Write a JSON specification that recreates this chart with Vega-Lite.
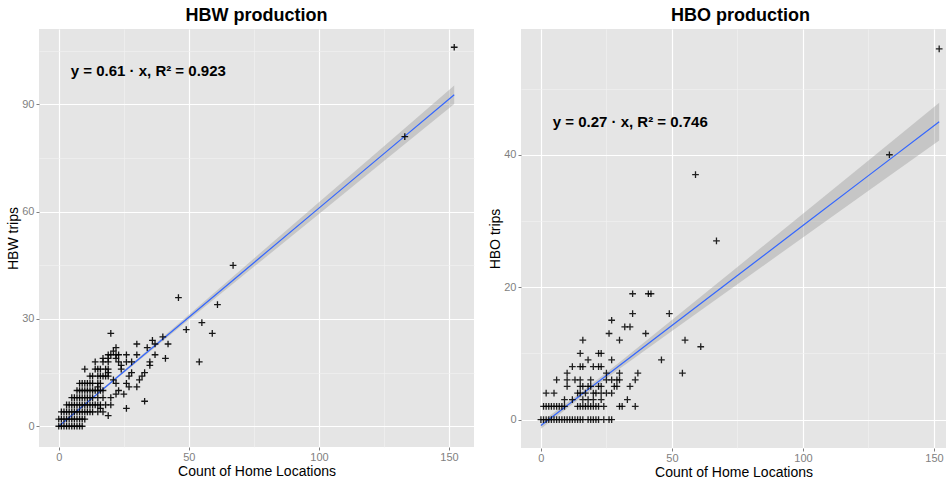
{
  "$schema": "https://vega.github.io/schema/vega-lite/v6.json",
  "padding": {"left": 6, "top": 7, "right": 0, "bottom": 0},
  "spacing": 14,
  "background": "white",
  "config": {
    "font": "Liberation Sans",
    "view": {"fill": "#E5E5E5", "stroke": null},
    "axis": {
      "domain": false,
      "labelColor": "#7F7F7F",
      "labelFontSize": 11,
      "labelFont": "Liberation Sans",
      "tickColor": "#7F7F7F",
      "tickSize": 3,
      "labelPadding": 2,
      "titleFont": "Liberation Sans",
      "titleFontSize": 14,
      "titleFontWeight": "normal",
      "titleColor": "black"
    },
    "title": {"font": "Liberation Sans", "fontSize": 18, "fontWeight": "bold", "color": "black", "offset": 4}
  },
  "datasets": {
    "hbw": [
      {"x":0,"y":0},{"x":1,"y":0},{"x":2,"y":0},{"x":3,"y":0},{"x":4,"y":0},{"x":5,"y":0},{"x":6,"y":0},{"x":7,"y":0},{"x":8,"y":0},{"x":9,"y":0},
      {"x":0,"y":2},{"x":1,"y":2},{"x":2,"y":2},{"x":3,"y":2},{"x":4,"y":2},{"x":5,"y":2},{"x":6,"y":2},{"x":7,"y":2},{"x":8,"y":2},{"x":9,"y":2},{"x":10,"y":2},
      {"x":1,"y":4},{"x":2,"y":4},{"x":3,"y":4},{"x":4,"y":4},{"x":5,"y":4},{"x":6,"y":4},{"x":7,"y":4},{"x":8,"y":4},{"x":9,"y":4},{"x":10,"y":4},{"x":11,"y":4},{"x":12,"y":4},{"x":13,"y":4},{"x":15,"y":4},{"x":17,"y":4},
      {"x":19,"y":3},
      {"x":3,"y":6},{"x":4,"y":6},{"x":5,"y":6},{"x":6,"y":6},{"x":7,"y":6},{"x":8,"y":6},{"x":9,"y":6},{"x":10,"y":6},{"x":11,"y":6},{"x":12,"y":6},{"x":13,"y":6},{"x":14,"y":6},{"x":15,"y":6},{"x":16,"y":6},{"x":18,"y":6},{"x":20,"y":6},
      {"x":16,"y":5},{"x":26,"y":5},
      {"x":5,"y":8},{"x":6,"y":8},{"x":7,"y":8},{"x":8,"y":8},{"x":9,"y":8},{"x":10,"y":8},{"x":11,"y":8},{"x":12,"y":8},{"x":13,"y":8},{"x":15,"y":8},{"x":17,"y":8},{"x":20,"y":8},
      {"x":33,"y":7},
      {"x":22,"y":9},{"x":25,"y":9},
      {"x":7,"y":10},{"x":8,"y":10},{"x":9,"y":10},{"x":10,"y":10},{"x":11,"y":10},{"x":12,"y":10},{"x":13,"y":10},{"x":14,"y":10},{"x":15,"y":10},{"x":16,"y":10},{"x":17,"y":10},{"x":23,"y":10},
      {"x":27,"y":11},{"x":30,"y":11},{"x":15,"y":11},
      {"x":8,"y":12},{"x":9,"y":12},{"x":10,"y":12},{"x":11,"y":12},{"x":12,"y":12},{"x":13,"y":12},{"x":15,"y":12},{"x":16,"y":12},{"x":22,"y":12},{"x":26,"y":12},
      {"x":21,"y":13},{"x":31,"y":13},
      {"x":12,"y":14},{"x":13,"y":14},{"x":15,"y":14},{"x":16,"y":14},{"x":17,"y":14},{"x":18,"y":14},{"x":19,"y":14},{"x":27,"y":14},{"x":32,"y":14},
      {"x":19,"y":15},{"x":28,"y":15},{"x":33,"y":15},
      {"x":10,"y":16},{"x":14,"y":16},{"x":15,"y":16},{"x":16,"y":16},{"x":18,"y":16},{"x":19,"y":16},{"x":24,"y":16},
      {"x":24,"y":17},{"x":35,"y":17},
      {"x":14,"y":18},{"x":17,"y":18},{"x":19,"y":18},{"x":23,"y":18},{"x":26,"y":18},{"x":28,"y":18},{"x":35,"y":18},
      {"x":17,"y":19},{"x":19,"y":19},{"x":22,"y":19},{"x":41,"y":19},
      {"x":19,"y":20},{"x":20,"y":20},{"x":22,"y":20},{"x":23,"y":20},{"x":26,"y":20},{"x":30,"y":20},{"x":37,"y":20},
      {"x":21,"y":21},
      {"x":22,"y":22},{"x":34,"y":22},
      {"x":30,"y":23},{"x":37,"y":23},{"x":42,"y":23},
      {"x":36,"y":24},{"x":40,"y":25},
      {"x":20,"y":26},{"x":59,"y":26},
      {"x":49,"y":27},{"x":55,"y":29},{"x":61,"y":34},{"x":46,"y":36},{"x":67,"y":45},{"x":54,"y":18},{"x":133,"y":81},{"x":152,"y":106}
    ],
    "hbo": [
      {"x":0,"y":0},{"x":1,"y":0},{"x":2,"y":0},{"x":3,"y":0},{"x":4,"y":0},{"x":5,"y":0},{"x":6,"y":0},{"x":7,"y":0},{"x":8,"y":0},{"x":9,"y":0},{"x":10,"y":0},{"x":11,"y":0},{"x":12,"y":0},{"x":13,"y":0},{"x":14,"y":0},{"x":15,"y":0},{"x":16,"y":0},{"x":18,"y":0},{"x":19,"y":0},{"x":20,"y":0},{"x":21,"y":0},{"x":22,"y":0},{"x":24,"y":0},{"x":26,"y":0},{"x":27,"y":0},
      {"x":1,"y":2},{"x":2,"y":2},{"x":3,"y":2},{"x":4,"y":2},{"x":5,"y":2},{"x":6,"y":2},{"x":7,"y":2},{"x":8,"y":2},{"x":9,"y":2},{"x":14,"y":2},{"x":15,"y":2},{"x":16,"y":2},{"x":17,"y":2},{"x":18,"y":2},{"x":19,"y":2},{"x":20,"y":2},{"x":21,"y":2},{"x":22,"y":2},{"x":24,"y":2},{"x":30,"y":2},{"x":31,"y":2},{"x":36,"y":2},
      {"x":9,"y":3},{"x":12,"y":3},{"x":16,"y":3},{"x":18,"y":3},{"x":20,"y":3},{"x":23,"y":3},{"x":33,"y":3},
      {"x":2,"y":4},{"x":5,"y":4},{"x":14,"y":4},{"x":15,"y":4},{"x":17,"y":4},{"x":20,"y":4},{"x":21,"y":4},{"x":23,"y":4},{"x":25,"y":4},{"x":27,"y":4},
      {"x":10,"y":5},{"x":15,"y":5},{"x":16,"y":5},{"x":18,"y":5},{"x":19,"y":5},{"x":22,"y":5},{"x":23,"y":5},{"x":28,"y":5},{"x":29,"y":5},{"x":34,"y":5},
      {"x":6,"y":6},{"x":10,"y":6},{"x":13,"y":6},{"x":15,"y":6},{"x":19,"y":6},{"x":25,"y":6},{"x":27,"y":6},{"x":29,"y":6},{"x":30,"y":6},{"x":36,"y":6},
      {"x":10,"y":7},{"x":25,"y":7},{"x":30,"y":7},{"x":37,"y":7},{"x":54,"y":7},
      {"x":12,"y":8},{"x":15,"y":8},{"x":16,"y":8},{"x":20,"y":8},{"x":22,"y":8},{"x":23,"y":8},
      {"x":18,"y":9},{"x":27,"y":9},{"x":46,"y":9},
      {"x":15,"y":10},{"x":22,"y":10},{"x":23,"y":10},
      {"x":61,"y":11},
      {"x":16,"y":12},{"x":30,"y":12},{"x":55,"y":12},
      {"x":26,"y":13},{"x":40,"y":13},
      {"x":32,"y":14},{"x":34,"y":14},
      {"x":27,"y":15},
      {"x":35,"y":16},{"x":49,"y":16},
      {"x":35,"y":19},{"x":41,"y":19},{"x":42,"y":19},
      {"x":67,"y":27},{"x":59,"y":37},{"x":133,"y":40},{"x":152,"y":56}
    ],
    "hbwfit": [
      {"x":0,"fit":0,"lo":-0.41,"hi":0.41},
      {"x":15,"fit":9.15,"lo":8.85,"hi":9.45},
      {"x":30,"fit":18.3,"lo":17.89,"hi":18.71},
      {"x":50,"fit":30.5,"lo":29.78,"hi":31.22},
      {"x":75,"fit":45.75,"lo":44.58,"hi":46.92},
      {"x":100,"fit":61,"lo":59.37,"hi":62.63},
      {"x":125,"fit":76.25,"lo":74.16,"hi":78.34},
      {"x":152,"fit":92.72,"lo":90.12,"hi":95.32}
    ],
    "hbofit": [
      {"x":0,"fit":-0.9,"lo":-1.4,"hi":-0.4},
      {"x":15,"fit":3.63,"lo":3.23,"hi":4.03},
      {"x":30,"fit":8.16,"lo":7.66,"hi":8.66},
      {"x":50,"fit":14.2,"lo":13.38,"hi":15.02},
      {"x":75,"fit":21.75,"lo":20.45,"hi":23.05},
      {"x":100,"fit":29.3,"lo":27.5,"hi":31.1},
      {"x":125,"fit":36.85,"lo":34.55,"hi":39.15},
      {"x":152,"fit":45.0,"lo":42.15,"hi":47.85}
    ],
    "hbwlab": [{"x":4.6,"y":99.4,"t":"y = 0.61 · x,  R² = 0.923"}],
    "hbolab": [{"x":4.5,"y":44.9,"t":"y = 0.27 · x,  R² = 0.746"}]
  },
  "hconcat": [
    {
      "width": 435,
      "height": 418,
      "title": {"text": "HBW production"},
      "layer": [
        {
          "data": {"name": "hbwfit"},
          "mark": {"type": "area", "color": "#999999", "opacity": 0.4},
          "encoding": {
            "x": {"field": "x", "type": "quantitative", "scale": {"domain": [-7.6, 159.6], "nice": false, "zero": false},
              "title": "Count of Home Locations",
              "axis": {"values": [0, 25, 50, 75, 100, 125, 150],
                "labelExpr": "datum.value % 50 === 0 ? datum.label : ''",
                "labelPadding": 1,
                "gridColor": {"condition": {"test": "datum.value % 50 === 0", "value": "#FFFFFF"}, "value": "#F2F2F2"},
                "gridWidth": {"condition": {"test": "datum.value % 50 === 0", "value": 1.2}, "value": 0.6},
                "tickOpacity": {"condition": {"test": "datum.value % 50 === 0", "value": 1}, "value": 0},
                "titlePadding": 2}},
            "y": {"field": "lo", "type": "quantitative", "scale": {"domain": [-5.8, 111.1], "nice": false, "zero": false},
              "title": "HBW trips",
              "axis": {"values": [0, 15, 30, 45, 60, 75, 90, 105],
                "labelExpr": "datum.value % 30 === 0 ? datum.label : ''",
                "gridColor": {"condition": {"test": "datum.value % 30 === 0", "value": "#FFFFFF"}, "value": "#F2F2F2"},
                "gridWidth": {"condition": {"test": "datum.value % 30 === 0", "value": 1.2}, "value": 0.6},
                "tickOpacity": {"condition": {"test": "datum.value % 30 === 0", "value": 1}, "value": 0},
                "titlePadding": 1}},
            "y2": {"field": "hi"}
          }
        },
        {
          "data": {"name": "hbwfit"},
          "mark": {"type": "line", "color": "#3366FF", "strokeWidth": 1.2},
          "encoding": {
            "x": {"field": "x", "type": "quantitative"},
            "y": {"field": "fit", "type": "quantitative"}
          }
        },
        {
          "data": {"name": "hbw"},
          "mark": {"type": "point", "shape": "M-1,0L1,0M0,-1L0,1", "filled": false, "stroke": "black", "strokeWidth": 1.3, "size": 45, "opacity": 0.9},
          "encoding": {
            "x": {"field": "x", "type": "quantitative"},
            "y": {"field": "y", "type": "quantitative"}
          }
        },
        {
          "data": {"name": "hbwlab"},
          "mark": {"type": "text", "align": "left", "baseline": "middle", "fontSize": 15, "fontWeight": "bold", "color": "black"},
          "encoding": {
            "x": {"field": "x", "type": "quantitative"},
            "y": {"field": "y", "type": "quantitative"},
            "text": {"field": "t"}
          }
        }
      ]
    },
    {
      "width": 425,
      "height": 419,
      "title": {"text": "HBO production", "dx": 7},
      "layer": [
        {
          "data": {"name": "hbofit"},
          "mark": {"type": "area", "color": "#999999", "opacity": 0.4},
          "encoding": {
            "x": {"field": "x", "type": "quantitative", "scale": {"domain": [-7.6, 154.6], "nice": false, "zero": false},
              "title": "Count of Home Locations",
              "axis": {"values": [0, 25, 50, 75, 100, 125, 150],
                "labelExpr": "datum.value % 50 === 0 ? datum.label : ''",
                "labelPadding": 1,
                "gridColor": {"condition": {"test": "datum.value % 50 === 0", "value": "#FFFFFF"}, "value": "#F2F2F2"},
                "gridWidth": {"condition": {"test": "datum.value % 50 === 0", "value": 1.2}, "value": 0.6},
                "tickOpacity": {"condition": {"test": "datum.value % 50 === 0", "value": 1}, "value": 0},
                "titlePadding": 2}},
            "y": {"field": "lo", "type": "quantitative", "scale": {"domain": [-4.3, 59], "nice": false, "zero": false},
              "title": "HBO trips",
              "axis": {"values": [0, 10, 20, 30, 40, 50],
                "labelExpr": "datum.value % 20 === 0 ? datum.label : ''",
                "gridColor": {"condition": {"test": "datum.value % 20 === 0", "value": "#FFFFFF"}, "value": "#F2F2F2"},
                "gridWidth": {"condition": {"test": "datum.value % 20 === 0", "value": 1.2}, "value": 0.6},
                "tickOpacity": {"condition": {"test": "datum.value % 20 === 0", "value": 1}, "value": 0},
                "titlePadding": 1}},
            "y2": {"field": "hi"}
          }
        },
        {
          "data": {"name": "hbofit"},
          "mark": {"type": "line", "color": "#3366FF", "strokeWidth": 1.2},
          "encoding": {
            "x": {"field": "x", "type": "quantitative"},
            "y": {"field": "fit", "type": "quantitative"}
          }
        },
        {
          "data": {"name": "hbo"},
          "mark": {"type": "point", "shape": "M-1,0L1,0M0,-1L0,1", "filled": false, "stroke": "black", "strokeWidth": 1.3, "size": 45, "opacity": 0.85},
          "encoding": {
            "x": {"field": "x", "type": "quantitative"},
            "y": {"field": "y", "type": "quantitative"}
          }
        },
        {
          "data": {"name": "hbolab"},
          "mark": {"type": "text", "align": "left", "baseline": "middle", "fontSize": 15, "fontWeight": "bold", "color": "black"},
          "encoding": {
            "x": {"field": "x", "type": "quantitative"},
            "y": {"field": "y", "type": "quantitative"},
            "text": {"field": "t"}
          }
        }
      ]
    }
  ]
}
